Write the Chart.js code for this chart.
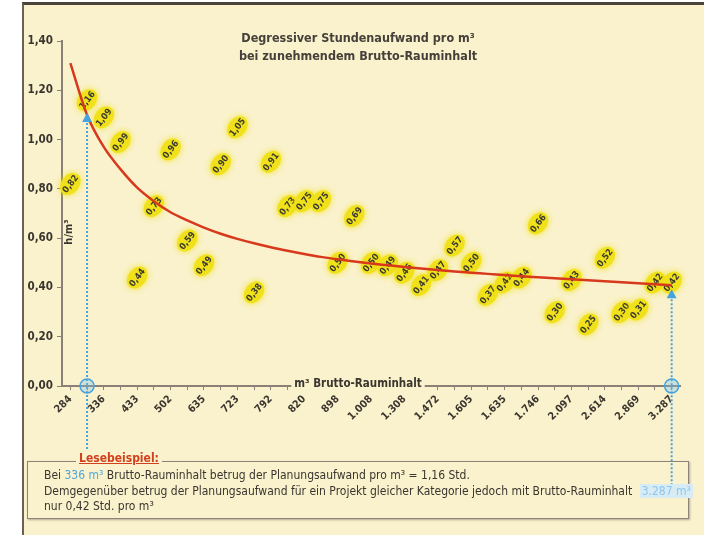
<!DOCTYPE html>
<html>
<head>
<meta charset="utf-8">
<script src="https://cdn.jsdelivr.net/npm/chart.js@4.4.1/dist/chart.umd.min.js"></script>
<style>
  html, body { margin: 0; padding: 0; background: #fff; }
  #page { position: relative; width: 704px; height: 535px; overflow: hidden; }
  #panel { position: absolute; left: 22px; top: 2px; width: 690px; height: 540px;
           background: #faf2cd; border-left: 2px solid #6b6257; border-top: 3px solid #4a443d; }
  #chart { position: absolute; left: 0; top: 0; }
  #box { position: absolute; left: 27px; top: 461px; width: 660px; height: 56px;
         border: 1px solid #8c8478; box-shadow: 1px 1px 2px rgba(0,0,0,.3);
         font-family: "Liberation Sans Narrow", "DejaVu Sans Condensed", sans-serif;
         font-size: 12px; color: #3a352f; line-height: 15.5px; }
  #box .t { position: absolute; left: 48px; top: -11px; padding: 0 3px; background: #faf2cd;
            color: #d2401e; font-weight: bold; text-decoration: underline; font-size: 12px; }
  #box .body { position: absolute; left: 16px; top: 6px; white-space: nowrap; }
  #box .b { color: #4ea6dc; }
  #box .hl { color: #8fc6ea; background: #d8ecf6; padding: 0 2px; margin-left: 4px; }
</style>
</head>
<body>
<div id="page">
  <div id="panel"></div>
  <canvas id="chart" width="704" height="535"></canvas>
  <div id="box">
    <span class="t">Lesebeispiel:</span>
    <div class="body">
      Bei <span class="b">336 m³</span> Brutto-Rauminhalt betrug der Planungsaufwand pro m³ = 1,16 Std.<br>
      Demgegenüber betrug der Planungsaufwand für ein Projekt gleicher Kategorie jedoch mit Brutto-Rauminhalt <span class="hl">3.287 m³</span><br>
      nur 0,42 Std. pro m³
    </div>
  </div>
</div>
<script>
const tickLabels = ["284", "336", "433", "502", "635", "723", "792", "820", "898", "1.008",
  "1.308", "1.472", "1.605", "1.635", "1.746", "2.097", "2.614", "2.869", "3.287"];

// 37 Projekte, nur jede zweite Achsenbeschriftung ist lesbar
const categories = tickLabels.flatMap((t, i) => i < tickLabels.length - 1 ? [t, ""] : [t]);

const hoursPerM3 = [0.82, 1.16, 1.09, 0.99, 0.44, 0.73, 0.96, 0.59, 0.49, 0.90,
  1.05, 0.38, 0.91, 0.73, 0.75, 0.75, 0.50, 0.69, 0.50, 0.49,
  0.46, 0.41, 0.47, 0.57, 0.50, 0.37, 0.42, 0.44, 0.66, 0.30,
  0.43, 0.25, 0.52, 0.30, 0.31, 0.42, 0.42];

const trendValues = [1.31, 1.10, 0.97, 0.88, 0.805, 0.75, 0.705, 0.672, 0.643, 0.618,
  0.597, 0.579, 0.563, 0.549, 0.536, 0.524, 0.514, 0.505, 0.497, 0.49,
  0.483, 0.477, 0.471, 0.465, 0.46, 0.455, 0.45, 0.445, 0.441, 0.437,
  0.433, 0.429, 0.425, 0.421, 0.417, 0.413, 0.409];

const exampleLeft = 1;   // 336 m³
const exampleRight = 36; // 3.287 m³

const bg = "#faf2cd";
const ink = "#3a352f";
const axisCol = "#8a8075";
const blue = "#45a3de";
const narrow = '"Liberation Sans Narrow", "DejaVu Sans Condensed", sans-serif';

const fmt = (v) => v.toFixed(2).replace(".", ",");

const blobs = {
  id: "blobs",
  beforeDatasetsDraw(chart) {
    const ctx = chart.ctx;
    const meta = chart.getDatasetMeta(1);
    const ang = -Math.PI * 0.29;
    meta.data.forEach((pt, i) => {
      ctx.save();
      ctx.translate(pt.x, pt.y);
      ctx.rotate(ang);
      ctx.shadowColor = "rgba(240,225,0,0.85)";
      ctx.shadowBlur = 6;
      ctx.fillStyle = "#f0e11a";
      ctx.beginPath();
      ctx.ellipse(0, 0, 12, 9, 0, 0, Math.PI * 2);
      ctx.fill();
      ctx.shadowBlur = 0;
      ctx.font = "bold 9px " + narrow;
      ctx.textAlign = "center";
      ctx.textBaseline = "middle";
      ctx.fillStyle = "#3b3a30";
      ctx.fillText(fmt(hoursPerM3[i]), 0, 0.5);
      ctx.restore();
    });
  }
};

function arrowUp(ctx, x, y) {
  ctx.beginPath();
  ctx.moveTo(x, y);
  ctx.lineTo(x - 5, y + 9);
  ctx.lineTo(x + 5, y + 9);
  ctx.closePath();
  ctx.fill();
}

const decor = {
  id: "decor",
  afterDraw(chart) {
    const ctx = chart.ctx;
    const xs = chart.scales.x, ys = chart.scales.y;
    const area = chart.chartArea;
    ctx.save();

    // Titel
    ctx.fillStyle = "#45403a";
    ctx.textAlign = "center";
    ctx.textBaseline = "middle";
    ctx.font = "bold 12.5px " + narrow;
    ctx.fillText("Degressiver Stundenaufwand pro m³", 358, 39);
    ctx.fillText("bei zunehmendem Brutto-Rauminhalt", 358, 57);

    // Achsentitel y
    ctx.fillStyle = ink;
    ctx.save();
    ctx.translate(area.left + 7, 232);
    ctx.rotate(-Math.PI / 2);
    ctx.font = "bold 11px " + narrow;
    ctx.fillText("h/m³", 0, 0);
    ctx.restore();

    // Achsentitel x auf der Achse
    ctx.font = "bold 11.5px " + narrow;
    const label = "m³ Brutto-Rauminhalt";
    const w = ctx.measureText(label).width;
    const cx = 358;
    ctx.fillStyle = bg;
    ctx.fillRect(cx - w / 2 - 3, area.bottom - 8, w + 6, 13);
    ctx.fillStyle = ink;
    ctx.fillText(label, cx, area.bottom - 2);

    // Lesebeispiel-Hilfslinien
    ctx.strokeStyle = blue;
    ctx.fillStyle = blue;
    ctx.lineWidth = 2;
    ctx.setLineDash([2, 2]);
    const xl = xs.getPixelForValue(exampleLeft);
    const yl = ys.getPixelForValue(trendValues[exampleLeft]);
    ctx.beginPath(); ctx.moveTo(xl, yl + 4); ctx.lineTo(xl, 462); ctx.stroke();
    const xr = xs.getPixelForValue(exampleRight);
    const yr = ys.getPixelForValue(trendValues[exampleRight]);
    ctx.beginPath(); ctx.moveTo(xr, yr + 6); ctx.lineTo(xr, 488); ctx.stroke();
    ctx.setLineDash([]);
    arrowUp(ctx, xl, yl - 2);
    arrowUp(ctx, xr, yr + 4);

    [xl, xr].forEach((x) => {
      ctx.beginPath();
      ctx.arc(x, area.bottom, 7, 0, Math.PI * 2);
      ctx.fillStyle = "rgba(120,190,235,0.35)";
      ctx.fill();
      ctx.strokeStyle = blue;
      ctx.lineWidth = 1.5;
      ctx.stroke();
    });
    ctx.restore();
  }
};

new Chart(document.getElementById("chart").getContext("2d"), {
  type: "line",
  data: {
    labels: categories,
    datasets: [
      {
        label: "Trend",
        data: trendValues,
        borderColor: "#d8381c",
        borderWidth: 2.5,
        pointRadius: 0,
        cubicInterpolationMode: "monotone",
        fill: false
      },
      {
        label: "h/m³",
        data: hoursPerM3,
        showLine: false,
        pointRadius: 0,
        pointHoverRadius: 0
      }
    ]
  },
  options: {
    responsive: false,
    animation: false,
    events: [],
    layout: { padding: { left: 0, right: 24, top: 41, bottom: 0 } },
    plugins: { legend: { display: false }, tooltip: { enabled: false } },
    scales: {
      x: {
        offset: true,
        grid: { display: true, drawOnChartArea: false, color: axisCol, tickLength: 4, offset: false },
        border: { display: true, color: axisCol, width: 2 },
        ticks: {
          autoSkip: false, maxRotation: 45, minRotation: 45, padding: 3,
          color: ink, font: { family: narrow, weight: "bold", size: 10.5 }
        },
        afterFit: (s) => { s.height = 149; }
      },
      y: {
        min: 0, max: 1.4,
        grid: { drawOnChartArea: false, color: axisCol, tickLength: 5 },
        border: { display: true, color: axisCol, width: 2 },
        ticks: {
          stepSize: 0.2, padding: 4, color: ink,
          font: { family: narrow, weight: "bold", size: 11.5 },
          callback: (v) => fmt(v)
        },
        afterFit: (s) => { s.width = 62; }
      }
    }
  },
  plugins: [blobs, decor]
});
</script>
</body>
</html>
